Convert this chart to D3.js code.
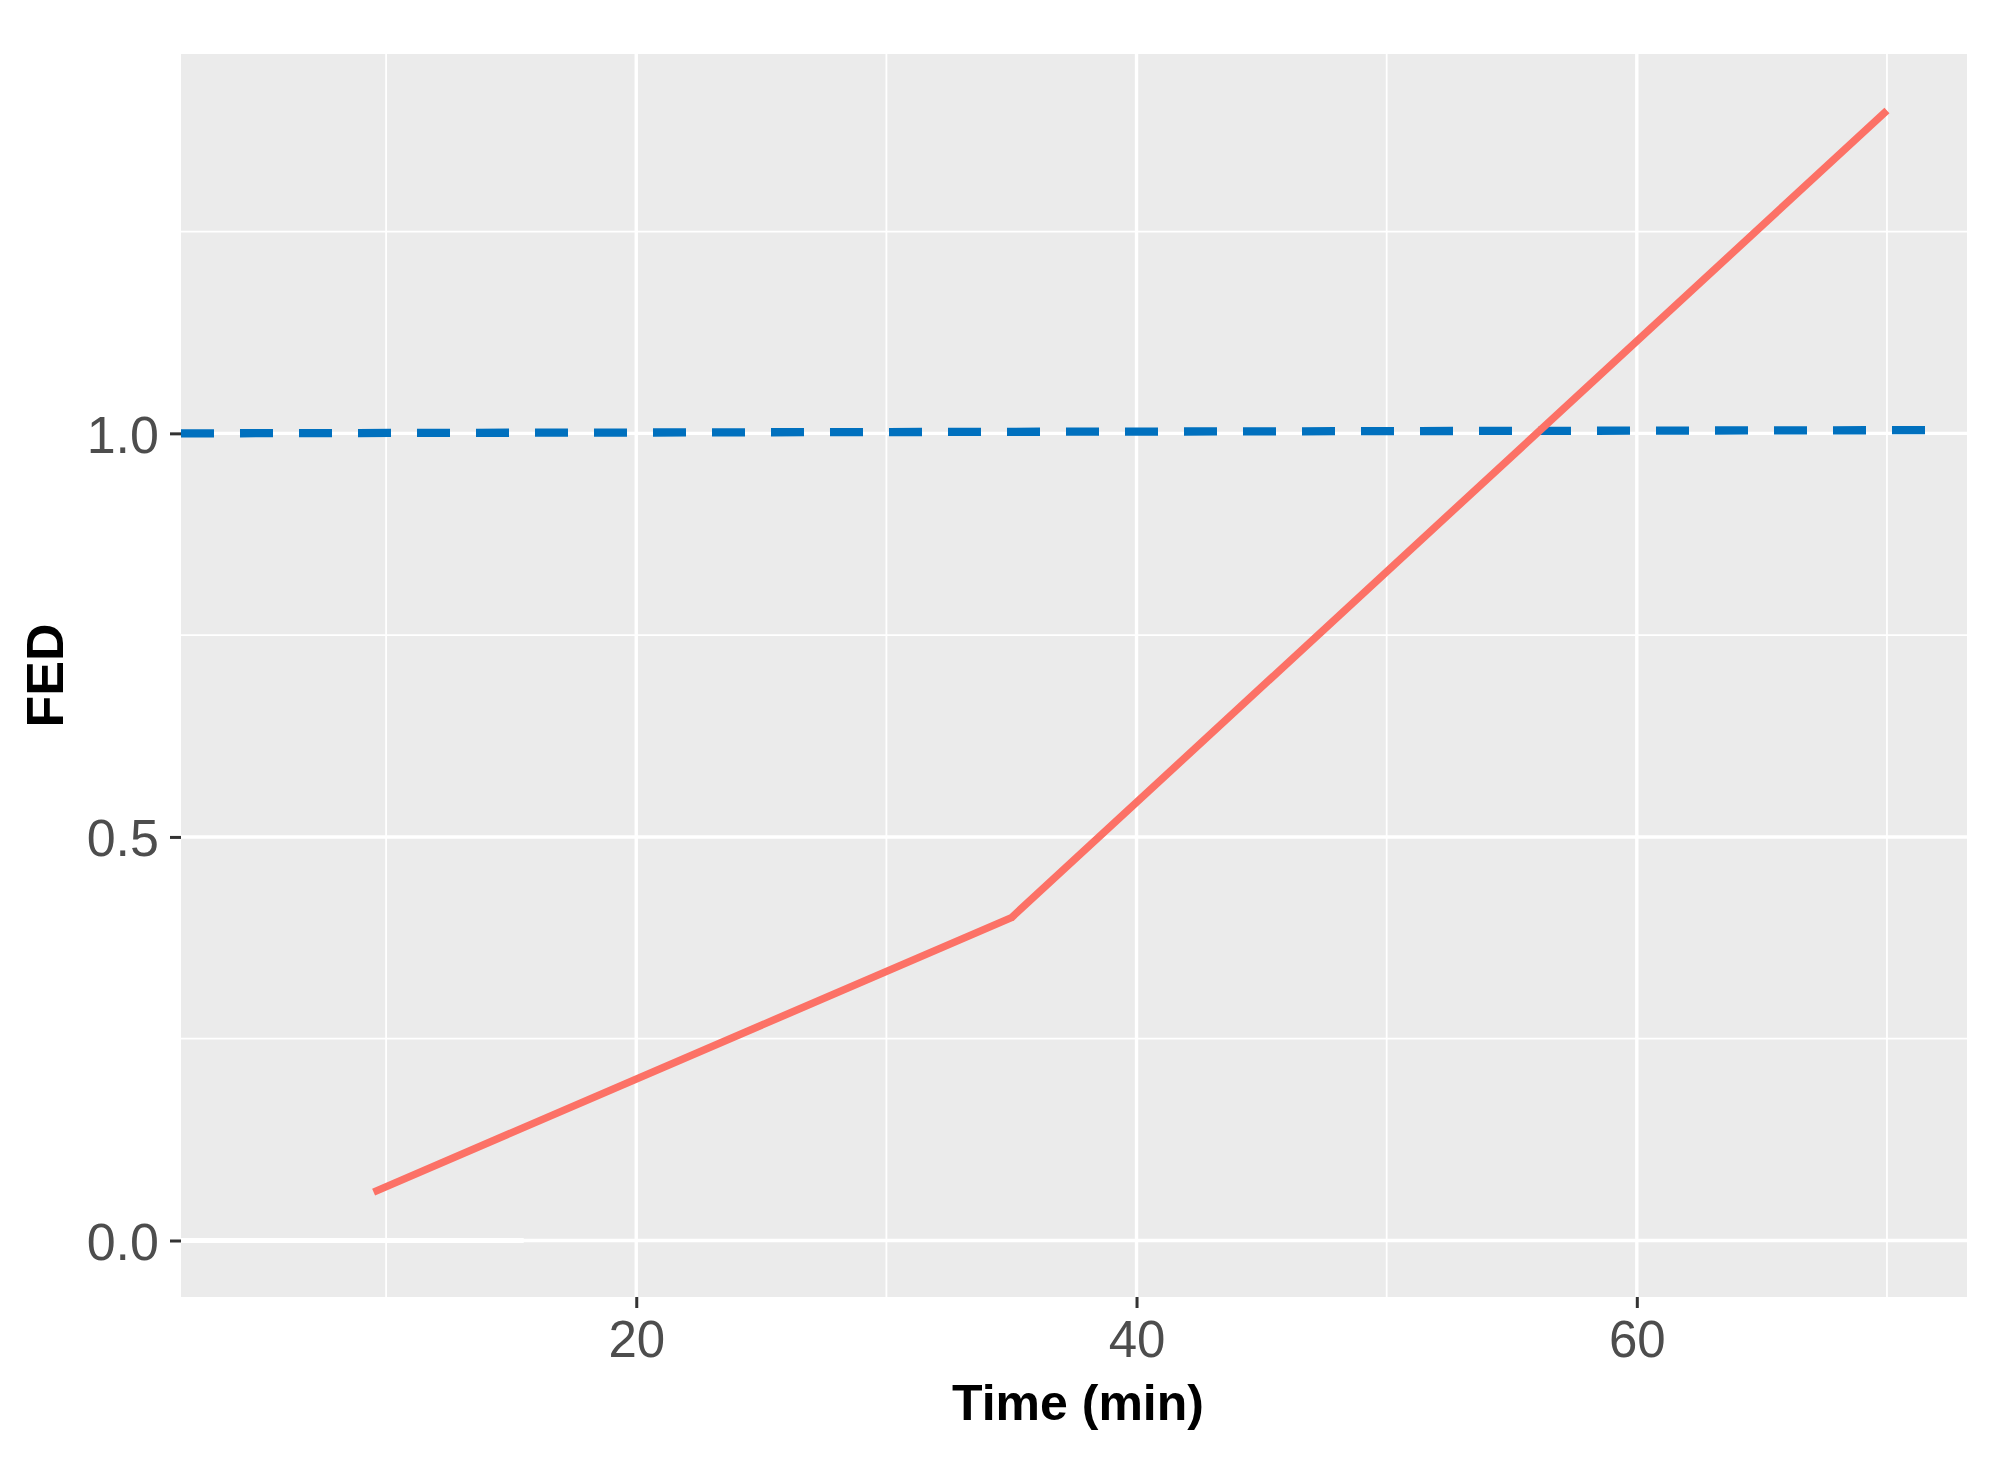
<!DOCTYPE html>
<html>
<head>
<meta charset="utf-8">
<script src="https://cdn.jsdelivr.net/npm/d3@7"></script>
<style>
  html, body { margin: 0; padding: 0; background: #ffffff; }
  svg { display: block; }
</style>
</head>
<body>
<svg id="chart" width="2012" height="1461"></svg>
<script>
// ---- data ----
const timeMin = [9.5, 35, 70];
const fedValues = [0.06, 0.40, 1.40];
const thresholdX = [1.8, 71.6];
const thresholdY = [1.0, 1.004];
const xTicks = [20, 40, 60];
const xMinorTicks = [10, 30, 50, 70];
const yTicks = [0.0, 0.5, 1.0];
const yMinorTicks = [0.25, 0.75, 1.25];
const yTickLabels = ["0.0", "0.5", "1.0"];
const zeroMarkX = [1.8, 15.5];
const xLabel = "Time (min)";
const yLabel = "FED";

// ---- layout ----
const panel = { left: 181, right: 1967, top: 54, bottom: 1297 };

const svg = d3.select("#chart");
const x = d3.scaleLinear().domain([1.8, 73.2]).range([panel.left, panel.right]);
const y = d3.scaleLinear().domain([-0.07, 1.47]).range([panel.bottom, panel.top]);

// panel background
svg.append("rect")
  .attr("x", panel.left).attr("y", panel.top)
  .attr("width", panel.right - panel.left)
  .attr("height", panel.bottom - panel.top)
  .attr("fill", "#EBEBEB");

const grid = svg.append("g");
// minor grid
grid.selectAll("line.xminor").data(xMinorTicks).join("line")
  .attr("x1", d => x(d)).attr("x2", d => x(d))
  .attr("y1", panel.top).attr("y2", panel.bottom)
  .attr("stroke", "#ffffff").attr("stroke-width", 1.8);
grid.selectAll("line.yminor").data(yMinorTicks).join("line")
  .attr("y1", d => y(d)).attr("y2", d => y(d))
  .attr("x1", panel.left).attr("x2", panel.right)
  .attr("stroke", "#ffffff").attr("stroke-width", 1.8);
// major grid
grid.selectAll("line.xmajor").data(xTicks).join("line")
  .attr("x1", d => x(d)).attr("x2", d => x(d))
  .attr("y1", panel.top).attr("y2", panel.bottom)
  .attr("stroke", "#ffffff").attr("stroke-width", 3.4);
grid.selectAll("line.ymajor").data(yTicks).join("line")
  .attr("y1", d => y(d)).attr("y2", d => y(d))
  .attr("x1", panel.left).attr("x2", panel.right)
  .attr("stroke", "#ffffff").attr("stroke-width", 3.4);
// thicker white segment on the zero line
grid.append("line")
  .attr("x1", x(zeroMarkX[0])).attr("x2", x(zeroMarkX[1]))
  .attr("y1", y(0)).attr("y2", y(0))
  .attr("stroke", "#ffffff").attr("stroke-width", 5);

// threshold dashed line
const thrData = thresholdX.map((d, i) => [d, thresholdY[i]]);
svg.append("path")
  .datum(thrData)
  .attr("d", d3.line().x(d => x(d[0])).y(d => y(d[1])))
  .attr("fill", "none")
  .attr("stroke", "#0070BE")
  .attr("stroke-width", 8.3)
  .attr("stroke-dasharray", "33,26");

// FED line
const fedData = timeMin.map((d, i) => [d, fedValues[i]]);
svg.append("path")
  .datum(fedData)
  .attr("d", d3.line().x(d => x(d[0])).y(d => y(d[1])))
  .attr("fill", "none")
  .attr("stroke", "#FC7166")
  .attr("stroke-width", 7.5)
  .attr("stroke-linejoin", "round");

// axes
const xAxis = d3.axisBottom(x).tickValues(xTicks).tickSize(11).tickPadding(4)
  .tickFormat(d3.format("d"));
const gx = svg.append("g")
  .attr("transform", `translate(0,${panel.bottom})`)
  .call(xAxis);
gx.select(".domain").remove();
gx.selectAll(".tick line").attr("stroke", "#333333").attr("stroke-width", 3);
gx.selectAll(".tick text")
  .attr("fill", "#4D4D4D")
  .style("font-family", "'Liberation Sans', Arial, sans-serif")
  .style("font-size", "51px")
  .attr("dy", "0.71em")
  .attr("y", 24);

const yAxis = d3.axisLeft(y).tickValues(yTicks).tickSize(11).tickPadding(11)
  .tickFormat((d, i) => yTickLabels[i]);
const gy = svg.append("g")
  .attr("transform", `translate(${panel.left},0)`)
  .call(yAxis);
gy.select(".domain").remove();
gy.selectAll(".tick line").attr("stroke", "#333333").attr("stroke-width", 3);
gy.selectAll(".tick text")
  .attr("fill", "#4D4D4D")
  .style("font-family", "'Liberation Sans', Arial, sans-serif")
  .style("font-size", "52px")
  .attr("dy", "0.36em");

// axis titles
svg.append("text")
  .attr("x", (panel.left + panel.right) / 2 + 4)
  .attr("y", 1420)
  .attr("text-anchor", "middle")
  .style("font-family", "'Liberation Sans', Arial, sans-serif")
  .style("font-weight", "bold")
  .style("font-size", "50px")
  .attr("fill", "#000000")
  .text(xLabel);

svg.append("text")
  .attr("transform", `translate(63,${(panel.top + panel.bottom) / 2}) rotate(-90)`)
  .attr("text-anchor", "middle")
  .style("font-family", "'Liberation Sans', Arial, sans-serif")
  .style("font-weight", "bold")
  .style("font-size", "52px")
  .attr("fill", "#000000")
  .text(yLabel);
</script>
</body>
</html>
